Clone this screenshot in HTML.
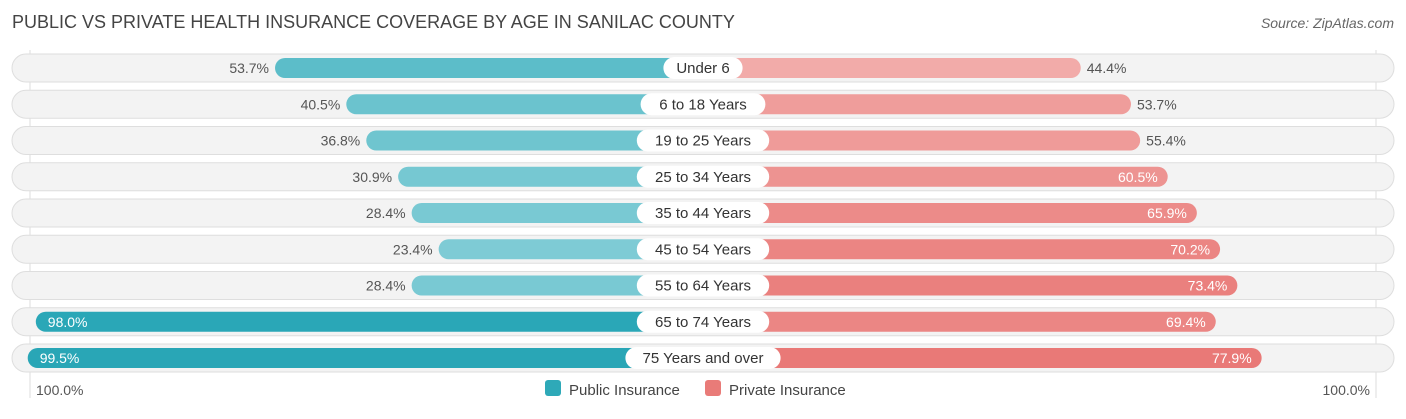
<!DOCTYPE html>
<html><head><meta charset="utf-8"><style>
body{margin:0;background:#fff;font-family:"Liberation Sans",sans-serif;}
svg text{font-family:"Liberation Sans",sans-serif;}
</style></head><body>
<svg id="c" width="1406" height="414">
<text x="12" y="28" font-size="18" fill="#444">PUBLIC VS PRIVATE HEALTH INSURANCE COVERAGE BY AGE IN SANILAC COUNTY</text>
<text x="1394" y="28" font-size="14" fill="#666" font-style="italic" text-anchor="end">Source: ZipAtlas.com</text>
<line x1="30" y1="50" x2="30" y2="398" stroke="#ddd"/>
<line x1="1376" y1="50" x2="1376" y2="398" stroke="#ddd"/>
<g id="rows"></g>
<text x="36" y="395" font-size="14" fill="#555">100.0%</text>
<text x="1370" y="395" font-size="14" fill="#555" text-anchor="end">100.0%</text>
<g>
<rect x="545" y="380" width="16" height="16" rx="3" fill="#2ea9b8"/>
<text x="569" y="395" font-size="15" fill="#444">Public Insurance</text>
<rect x="705" y="380" width="16" height="16" rx="3" fill="#e97b78"/>
<text x="729" y="395" font-size="15" fill="#444">Private Insurance</text>
</g>
</svg>
<script>
const categories=["Under 6","6 to 18 Years","19 to 25 Years","25 to 34 Years","35 to 44 Years","45 to 54 Years","55 to 64 Years","65 to 74 Years","75 Years and over"];
const publicValues=[53.7,40.5,36.8,30.9,28.4,23.4,28.4,98.0,99.5];
const privateValues=[44.4,53.7,55.4,60.5,65.9,70.2,73.4,69.4,77.9];
const cx=703, y0=68, dy=36.25;
function w(v){return 138+5.4*v;}
function mix(a,b,t){return 'rgb('+a.map((x,i)=>Math.round(x+(b[i]-x)*t)).join(',')+')';}
const g=document.getElementById('rows');
const NS='http://www.w3.org/2000/svg';
function mk(t,attrs,parent){const e=document.createElementNS(NS,t);for(const k in attrs)e.setAttribute(k,attrs[k]);(parent||g).appendChild(e);return e;}
categories.forEach((cat,i)=>{
  const y=y0+i*dy;
  const row=mk('g',{});
  
  
  const bg=mk('rect',{x:12,y:y-14,width:1382,height:28,rx:14,fill:'#f3f3f3',stroke:'#dedede'},row);
  
  
  const pv=publicValues[i], qv=privateValues[i];
  const pw=w(pv), qw=w(qv);
  const tp=Math.min(1,Math.max(0,(pv-20)/80));
  const pb=mk('rect',{x:cx-pw,y:y-10,width:pw,height:20,rx:10,fill:mix([130,205,214],[40,166,182],tp)},row);
  
  
  const tq=Math.min(1,Math.max(0,(qv-40)/40));
  const qb=mk('rect',{x:cx,y:y-10,width:qw,height:20,rx:10,fill:mix([243,178,176],[232,118,116],tq)},row);
  
  
  const lw=cat.length*7.6+26;
  const lb=mk('rect',{x:cx-lw/2,y:y-11,width:lw,height:22,rx:11,fill:'#fff'},row);
  
  
  const lt=mk('text',{x:cx,y:y+5,'font-size':15,fill:'#333','text-anchor':'middle'},row);
  lt.textContent=cat;
  
  
  const pin=pv>90;
  const pt=mk('text',{x:pin?cx-pw+12:cx-pw-6,y:y+5,'font-size':14,fill:pin?'#fff':'#555','text-anchor':pin?'start':'end'},row);
  pt.textContent=pv.toFixed(1)+'%';
  
  
  const qin=qv>58;
  const qt=mk('text',{x:qin?cx+qw-10:cx+qw+6,y:y+5,'font-size':14,fill:qin?'#fff':'#555','text-anchor':qin?'end':'start'},row);
  qt.textContent=qv.toFixed(1)+'%';
  
  
});
</script>
</body></html>
